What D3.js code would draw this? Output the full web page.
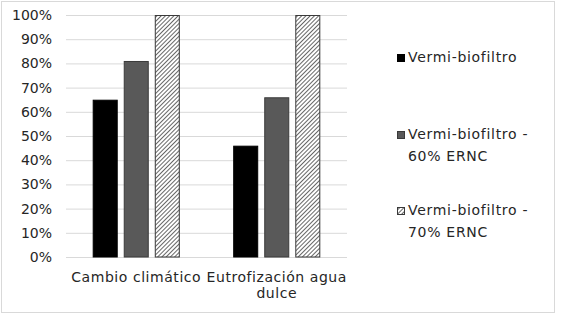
<!DOCTYPE html>
<html>
<head>
<meta charset="utf-8">
<script src="https://cdn.jsdelivr.net/npm/d3@7"></script>
<style>
  body { margin: 0; background: #fff; }
  svg { font-family: "DejaVu Sans", Verdana, sans-serif; }
</style>
</head>
<body>
<div class="chart"></div>
<script>
let categories = [['Cambio climático'], ['Eutrofización agua', 'dulce']];
let series = ['Vermi-biofiltro', 'Vermi-biofiltro - 60% ERNC', 'Vermi-biofiltro - 70% ERNC'];
let legendLines = [['Vermi-biofiltro'], ['Vermi-biofiltro -', '60% ERNC'], ['Vermi-biofiltro -', '70% ERNC']];
let vermi = [0.65, 0.46];
let vermi60 = [0.81, 0.66];
let vermi70 = [1.0, 1.0];
let yTicks = [0, 0.1, 0.2, 0.3, 0.4, 0.5, 0.6, 0.7, 0.8, 0.9, 1.0];

let w = 564, h = 323;
let plot = { left: 66, right: 347, top: 15, bottom: 257 };
let fontSize = 14;

let svg = d3.select('.chart').append('svg').attr('width', w).attr('height', h);

// hatch pattern for the 70% series
let defs = svg.append('defs');
let hatch = defs.append('pattern')
    .attr('id', 'hatch')
    .attr('patternUnits', 'userSpaceOnUse')
    .attr('width', 3)
    .attr('height', 3)
    .attr('patternTransform', 'rotate(45)');
hatch.append('rect').attr('width', 3).attr('height', 3).attr('fill', '#fff');
hatch.append('line')
    .attr('x1', 0).attr('y1', 0).attr('x2', 0).attr('y2', 3)
    .attr('stroke', '#404040').attr('stroke-width', 1.6);

let fills = ['#000000', '#595959', 'url(#hatch)'];
let strokes = ['#000000', '#3a3a3a', '#3a3a3a'];

// outer frame
svg.append('rect')
    .attr('x', 1.5).attr('y', 1.5)
    .attr('width', 553).attr('height', 311)
    .attr('fill', 'none')
    .attr('stroke', '#d9d9d9');

/* ==== SCALES ==== */

let xScale = d3.scaleBand()
    .domain(d3.range(categories.length))
    .range([plot.left, plot.right]);

let xInner = d3.scaleBand()
    .domain(d3.range(series.length))
    .range([0, xScale.bandwidth()])
    .paddingInner(0.194)
    .paddingOuter(0.86);

let yScale = d3.scaleLinear()
    .domain([0, 1])
    .range([plot.bottom, plot.top]);

/* ==== GRID & AXIS ==== */

let grid = d3.axisLeft(yScale)
    .tickValues(yTicks)
    .tickSize(-(plot.right - plot.left))
    .tickFormat('');

svg.append('g')
    .attr('class', 'grid')
    .attr('transform', 'translate(' + plot.left + ',0)')
    .call(grid)
    .call(g => g.select('.domain').remove())
    .call(g => g.selectAll('line').attr('stroke', '#d9d9d9').attr('stroke-width', 1));

let yAxis = d3.axisLeft(yScale)
    .tickValues(yTicks)
    .tickSize(0)
    .tickPadding(14)
    .tickFormat(d3.format('.0%'));

svg.append('g')
    .attr('class', 'axis y')
    .attr('transform', 'translate(' + plot.left + ',0)')
    .call(yAxis)
    .call(g => g.select('.domain').remove())
    .call(g => g.selectAll('text')
        .attr('font-family', '"DejaVu Sans", Verdana, sans-serif')
        .attr('font-size', fontSize)
        .attr('fill', '#262626'));

/* ==== BARS ==== */

let data = [vermi, vermi60, vermi70];
categories.forEach(function (cat, ci) {
    let g = svg.append('g').attr('transform', 'translate(' + xScale(ci) + ',0)');
    data.forEach(function (vals, si) {
        g.append('rect')
            .attr('x', xInner(si) + 0.5)
            .attr('y', yScale(vals[ci]) + 0.5)
            .attr('width', xInner.bandwidth() - 1)
            .attr('height', yScale(0) - yScale(vals[ci]) - 0.5)
            .attr('fill', fills[si])
            .attr('stroke', strokes[si])
            .attr('stroke-width', 1);
    });
});

/* ==== CATEGORY LABELS ==== */

categories.forEach(function (cat, ci) {
    let t = svg.append('text')
        .attr('x', xScale(ci) + xScale.bandwidth() / 2)
        .attr('y', 282)
        .attr('text-anchor', 'middle')
        .attr('font-size', fontSize)
        .attr('letter-spacing', 0.55)
        .attr('fill', '#262626');
    cat.forEach(function (line, li) {
        t.append('tspan')
            .attr('x', xScale(ci) + xScale.bandwidth() / 2)
            .attr('dy', li === 0 ? 0 : 16)
            .text(line);
    });
});

/* ==== LEGEND ==== */

let legendY = [62, 139, 215];
legendLines.forEach(function (lines, si) {
    svg.append('rect')
        .attr('x', 397.5)
        .attr('y', legendY[si] - 7.5)
        .attr('width', 7)
        .attr('height', 7)
        .attr('fill', fills[si])
        .attr('stroke', strokes[si]);
    let t = svg.append('text')
        .attr('x', 408)
        .attr('y', legendY[si])
        .attr('font-size', fontSize)
        .attr('letter-spacing', 0.7)
        .attr('fill', '#262626');
    lines.forEach(function (line, li) {
        t.append('tspan')
            .attr('x', 408)
            .attr('dy', li === 0 ? 0 : 22)
            .text(line);
    });
});
</script>
</body>
</html>
